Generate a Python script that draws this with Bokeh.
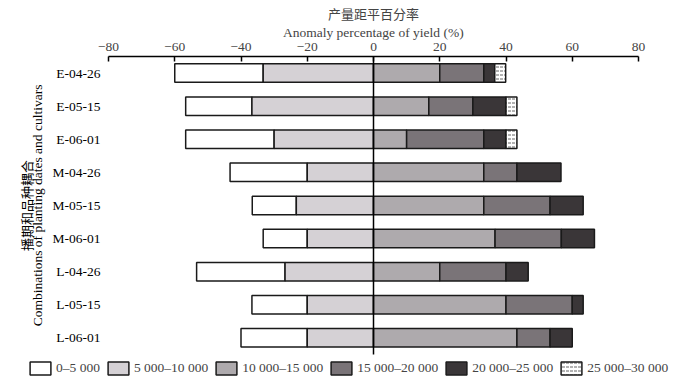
import numpy as np
from math import pi
from bokeh.plotting import figure
from bokeh.models import (Legend, LegendItem, FixedTicker, ColumnDataSource, Range1d,
                          Label, Title)
from bokeh.core.properties import value
from bokeh.embed import file_html
from bokeh.resources import INLINE

# ---------------- data (percent of years in each yield class) ----------------
categories = ["E-04-26", "E-05-15", "E-06-01", "M-04-26", "M-05-15",
              "M-06-01", "L-04-26", "L-05-15", "L-06-01"]
y_0_5000 = [26.7, 20.0, 26.7, 23.3, 13.3, 13.3, 26.7, 16.7, 20.0]      # negative side, outer
y_5000_10000 = [33.3, 36.7, 30.0, 20.0, 23.3, 20.0, 26.7, 20.0, 20.0]  # negative side, inner
y_10000_15000 = [20.0, 16.7, 10.0, 33.3, 33.3, 36.7, 20.0, 40.0, 43.3]
y_15000_20000 = [13.3, 13.3, 23.3, 10.0, 20.0, 20.0, 20.0, 20.0, 10.0]
y_20000_25000 = [3.3, 10.0, 6.7, 13.3, 10.0, 10.0, 6.7, 3.3, 6.7]
y_25000_30000 = [3.3, 3.3, 3.3, 0.0, 0.0, 0.0, 0.0, 0.0, 0.0]

class_labels = ["0–5 000", "5 000–10 000", "10 000–15 000",
                "15 000–20 000", "20 000–25 000", "25 000–30 000"]
x_ticks = [-80, -60, -40, -20, 0, 20, 40, 60, 80]
x_title_cn = "产量距平百分率"
x_title_en = "Anomaly percentage of yield (%)"
y_title_cn = "播期和品种耦合"
y_title_en = "Combinations of planting dates and cultivars"

# ---------------- layout / styles ----------------
W, H, TOP = 696, 384, 56
AX_L, AX_R = 108, 638              # pixel extent of -80 .. 80
scale = (AX_R - AX_L) / (x_ticks[-1] - x_ticks[0])
x_start = x_ticks[0] - AX_L / scale
x_end = x_ticks[-1] + (W - AX_R) / scale
row_px = 33.1
n = len(categories)
y_end = n - 0.5
y_start = y_end - (H - TOP) / row_px
zero_px = AX_L + (0 - x_ticks[0]) * scale
en_title_w = 181   # approx. rendered width of the English title line (px)
cn_title_w = 91    # approx. rendered width of the Chinese title line (px)

fills = ["#ffffff", "#d5d1d5", "#aeaaad", "#7a7478", "#3a3638", "#ffffff"]
edge = "#1a1a1a"
serif = "Liberation Serif"
cjk = "Noto Sans CJK SC"
fs = "13.5px"

p = figure(frame_width=W, frame_height=H - TOP,
           min_border_left=0, min_border_right=0,
           min_border_top=TOP, min_border_bottom=0,
           x_range=Range1d(x_start, x_end), y_range=Range1d(y_start, y_end),
           x_axis_location="above", y_axis_type=None, output_backend="svg",
           toolbar_location=None, tools="")

ypos = np.arange(n)[::-1].astype(float)   # first category on top

# segments
neg_inner = np.array(y_5000_10000)
neg_outer = np.array(y_0_5000)
segments = [(-neg_inner - neg_outer, -neg_inner, 0), (-neg_inner, np.zeros(n), 1)]
cum = np.zeros(n)
for k, vals in enumerate([y_10000_15000, y_15000_20000, y_20000_25000, y_25000_30000]):
    v = np.array(vals)
    segments.append((cum.copy(), cum + v, k + 2))
    cum = cum + v

renderers = []
for left, right, k in segments:
    m = (right - left) > 0
    src = ColumnDataSource(dict(y=list(ypos[m]), left=list(left[m]), right=list(right[m])))
    kw = dict(fill_color=fills[k], line_color=edge, line_width=1.5)
    if k == 5:
        kw.update(hatch_pattern="horizontal_dash", hatch_color="#666666",
                  hatch_scale=4, hatch_weight=1)
    renderers.append(p.hbar(y="y", left="left", right="right", height=0.56, source=src, **kw))

# zero line spanning the category slots
p.segment(x0=[0], y0=[y_end], x1=[0], y1=[-0.5], line_color="black", line_width=1.5)

# category labels
p.text(x=[x_ticks[0]] * n, y=list(ypos), text=categories, x_offset=-8,
       text_align="right", text_baseline="middle",
       text_font=value(serif), text_font_size=value(fs), text_color="black")

# y titles (rotated)
p.add_layout(Label(x=x_start + 26 / scale, y=(n - 1) / 2, text=y_title_cn, angle=pi / 2,
                   text_align="center", text_baseline="middle",
                   text_font=cjk, text_font_size="13px", text_color="black"))
p.add_layout(Label(x=x_start + 37 / scale, y=(n - 1) / 2, text=y_title_en, angle=pi / 2,
                   text_align="center", text_baseline="middle",
                   text_font=serif, text_font_size=fs, text_color="black"))

# top axis
xa = p.xaxis[0]
xa.bounds = (x_ticks[0], x_ticks[-1])
xa.ticker = FixedTicker(ticks=x_ticks)
xa.major_label_overrides = {t: (f"\u2212{abs(t)}" if t < 0 else str(t)) for t in x_ticks}
xa.major_label_text_font = serif
xa.major_label_text_font_size = fs
xa.major_label_standoff = 6
xa.major_tick_in = 5
xa.major_tick_out = 0
xa.minor_tick_in = 0
xa.minor_tick_out = 0
xa.axis_line_width = 1.5
xa.axis_line_color = "black"
xa.major_tick_line_width = 1.5

# titles centred over 0: English line next to the axis, Chinese line outermost
p.add_layout(Title(text=x_title_en, align="left", offset=zero_px - en_title_w / 2, standoff=0,
                   text_font=serif, text_font_size=fs, text_font_style="normal"), "above")
p.title.text = x_title_cn
p.title.align = "left"
p.title.offset = zero_px - cn_title_w / 2
p.title.standoff = 0
p.title.text_font = cjk
p.title.text_font_size = "13px"
p.title.text_font_style = "normal"

p.xgrid.visible = False
p.ygrid.visible = False
p.outline_line_color = None

# legend at the bottom
items = [LegendItem(label=lab, renderers=[r]) for lab, r in zip(class_labels, renderers)]
legend = Legend(items=items, orientation="horizontal", location=(27, 8),
                glyph_width=26, glyph_height=16, label_standoff=3, spacing=5,
                padding=0, margin=0, border_line_color=None, background_fill_alpha=0,
                label_text_font=serif, label_text_font_size=fs)
p.add_layout(legend)

open("out.html", "w").write(file_html(p, INLINE))
